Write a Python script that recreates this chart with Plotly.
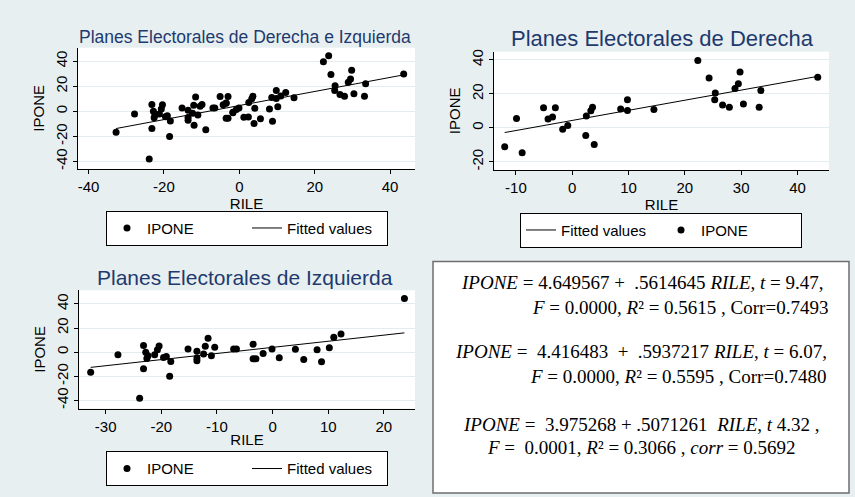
import plotly.graph_objects as go

# ---------------- data ----------------
# Planes Electorales de Derecha
der_rile = [-12.0, -9.9, -8.9, -5.1, -4.3, -3.5, -3.0, -1.7, -0.8, 2.4, 2.5, 3.3, 3.6, 3.9,
            8.6, 9.8, 9.8, 14.5, 22.3, 24.3, 25.4, 25.3, 26.7, 27.9, 28.9, 29.5, 29.8, 30.4,
            33.2, 33.5, 43.6]
der_ipone = [-11.1, 5.5, -14.6, 11.9, 5.3, 6.4, 11.9, -0.8, 1.4, -4.5, 7.0, 10.1, 12.1, -9.7,
             11.1, 16.6, 10.3, 10.9, 39.6, 29.4, 20.5, 16.6, 13.5, 12.1, 23.2, 25.9, 32.9, 14.0,
             12.1, 22.0, 29.8]

# Planes Electorales de Izquierda
izq_rile = [-32.7, -27.8, -23.2, -23.2, -22.8, -23.9, -22.6, -22.4, -21.2, -20.7, -20.4, -19.6,
            -19.1, -18.5, -18.3, -15.2, -13.6, -13.6, -13.6, -12.4, -12.1, -11.6, -11.0, -10.4,
            -7.0, -6.5, -3.5, -3.5, -3.0, -1.7, -0.1, 1.2, 4.1, 5.6, 8.0, 8.8, 10.2, 11.0, 12.3,
            23.7]
izq_ipone = [-16.7, -2.2, 5.5, -13.7, 0.0, -38.1, -5.2, -3.0, -2.2, 1.9, 5.2, -4.4,
             -3.6, -20.0, -7.7, 2.7, 0.8, -4.9, -7.1, -1.6, 4.9, 11.5, -3.0, 4.1,
             2.7, 2.7, 6.6, -5.5, -5.5, -1.1, 2.7, -4.7, 2.5, -6.0, 1.9, -7.9, 3.6, 12.3, 15.1,
             44.4]

# Derecha e Izquierda (all plans)
all_rile = der_rile + izq_rile
all_ipone = der_ipone + izq_ipone

# regression coefficients (from the text box): [all, derecha, izquierda]
fit_const = [4.649567, 4.416483, 3.975268]
fit_slope = [0.5614645, 0.5937217, 0.5071261]

# tick values and labels
x_ticks = [[-40, -20, 0, 20, 40], [-10, 0, 10, 20, 30, 40], [-30, -20, -10, 0, 10, 20]]
y_ticks = [[-40, -20, 0, 20, 40], [-20, 0, 20, 40], [-40, -20, 0, 20, 40]]
x_tick_labels = [["-40", "-20", "0", "20", "40"],
                 ["-10", "0", "10", "20", "30", "40"],
                 ["-30", "-20", "-10", "0", "10", "20"]]
y_tick_labels = [["-40", "-20", "0", "20", "40"],
                 ["-20", "0", "20", "40"],
                 ["-40", "-20", "0", "20", "40"]]

titles = ["Planes Electorales de Derecha e Izquierda",
          "Planes Electorales de Derecha",
          "Planes Electorales de Izquierda"]

eq_lines = [
    "<i>IPONE</i> = 4.649567 +  .5614645 <i>RILE</i>, <i>t</i> = 9.47,",
    "<i>F</i> = 0.0000, <i>R</i>² = 0.5615 , Corr=0.7493",
    "<i>IPONE</i> =  4.416483  +  .5937217 <i>RILE</i>, <i>t</i> = 6.07,",
    "<i>F</i> = 0.0000, <i>R</i>² = 0.5595 , Corr=0.7480",
    "<i>IPONE</i> =  3.975268 + .5071261  <i>RILE</i>, <i>t</i> 4.32 ,",
    "<i>F</i> =  0.0001, <i>R</i>² = 0.3066 , <i>corr</i> = 0.5692",
]

# ---------------- figure ----------------
W, H = 855, 497
BG = "#e8eff1"
TITLE_C = "#1e3a6e"
FONT = "Liberation Sans, Arial, sans-serif"


def px(x):
    return x / W


def py(y):
    return 1 - y / H


fig = go.Figure()

datasets = [(all_rile, all_ipone), (der_rile, der_ipone), (izq_rile, izq_ipone)]
for i, (xs, ys) in enumerate(datasets):
    ax = "" if i == 0 else str(i + 1)
    lg = "legend" if i == 0 else "legend" + str(i + 1)
    x_fit = [min(xs), max(xs)]
    y_fit = [fit_const[i] + fit_slope[i] * v for v in x_fit]
    scatter = go.Scatter(x=xs, y=ys, mode="markers", name="IPONE",
                         marker=dict(color="black", size=7),
                         xaxis="x" + ax, yaxis="y" + ax, legend=lg)
    line = go.Scatter(x=x_fit, y=y_fit, mode="lines", name="Fitted values",
                      line=dict(color="black", width=1),
                      xaxis="x" + ax, yaxis="y" + ax, legend=lg)
    if i == 1:
        fig.add_trace(line)
        fig.add_trace(scatter)
    else:
        fig.add_trace(scatter)
        fig.add_trace(line)

axis_common = dict(showline=True, linecolor="black", linewidth=1, ticks="outside",
                   ticklen=4, tickcolor="black", tickfont=dict(size=15, color="black"),
                   zeroline=False, mirror=False)

# plot area boxes in pixels: (left, right, top, bottom)
boxes = [(78, 415, 46, 168), (494, 829, 50, 169), (79, 415, 290, 409)]
xranges = [[-42.8, 46.6], [-13.9, 45.6], [-34.8, 25.6]]
yranges = [[-46, 50.8], [-24.7, 44.8], [-46.7, 51.3]]

layout = dict(width=W, height=H, paper_bgcolor=BG, plot_bgcolor="white",
              margin=dict(l=0, r=0, t=0, b=0), font=dict(family=FONT, color="black"))

for i, (l, r, t, b) in enumerate(boxes):
    ax = "" if i == 0 else str(i + 1)
    layout["xaxis" + ax] = dict(domain=[px(l), px(r)], range=xranges[i],
                                tickmode="array", tickvals=x_ticks[i],
                                ticktext=x_tick_labels[i],
                                showgrid=False, anchor="y" + ax,
                                title=dict(text="RILE", font=dict(size=15), standoff=0),
                                **axis_common)
    layout["yaxis" + ax] = dict(domain=[py(b), py(t)], range=yranges[i],
                                tickmode="array", tickvals=y_ticks[i],
                                ticktext=y_tick_labels[i],
                                showgrid=True, gridcolor="#e3ecef", gridwidth=1,
                                tickangle=-90, anchor="x" + ax,
                                title=dict(text="IPONE", font=dict(size=15), standoff=4),
                                **axis_common)

legend_pos = [(106, 210), (520, 212), (106, 452)]
for i, (lx, ly) in enumerate(legend_pos):
    key = "legend" if i == 0 else "legend" + str(i + 1)
    layout[key] = dict(x=px(lx), y=py(ly), xanchor="left", yanchor="top",
                       orientation="h", bgcolor="white", bordercolor="black",
                       borderwidth=1, font=dict(size=15, color="black"),
                       entrywidth=95, entrywidthmode="pixels",
                       itemwidth=30, tracegroupgap=0)

annotations = []
title_pos = [(245, 35, 17.5), (662, 37, 22), (245, 277, 21)]
for (tx, ty, ts), txt in zip(title_pos, titles):
    annotations.append(dict(text=txt, x=px(tx), y=py(ty), xref="paper", yref="paper",
                            xanchor="center", yanchor="middle", showarrow=False,
                            font=dict(size=ts, color=TITLE_C, family=FONT)))

# equations text box
eq_pos = [(642, 282, "center"), (830, 307, "right"), (641, 352, "center"),
          (828, 377, "right"), (641, 425, "center"), (641, 448, "center")]
for (ex, ey, anc), txt in zip(eq_pos, eq_lines):
    annotations.append(dict(text=txt, x=px(ex), y=py(ey), xref="paper", yref="paper",
                            xanchor=anc, yanchor="middle", showarrow=False,
                            font=dict(size=19, color="black",
                                      family="Liberation Serif, Times New Roman, serif")))

layout["annotations"] = annotations
layout["shapes"] = [dict(type="rect", xref="paper", yref="paper",
                         x0=px(433), x1=px(849), y0=py(494), y1=py(261),
                         line=dict(color="#6e6e6e", width=1.5), fillcolor="white",
                         layer="below")]

fig.update_layout(**layout)
fig.write_html("out.html",
               config={"displayModeBar": False},
               post_script="document.body.style.margin='0';"
                           "document.body.style.background='%s';" % BG)
